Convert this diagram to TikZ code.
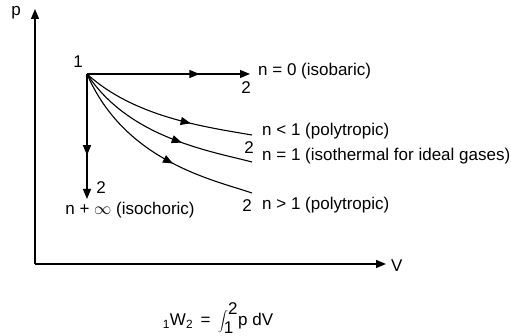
\documentclass[tikz,border=0pt]{standalone}
\usepackage{fontspec}
\setmainfont{Liberation Sans}
\usetikzlibrary{arrows.meta,decorations.markings}

\begin{document}
\begin{tikzpicture}[
  x=1pt, y=-1pt,
  font=\fontsize{17}{20}\selectfont,
  axis/.style={-{Triangle[length=10pt,width=8pt]}, line width=1.4pt},
  proc/.style={line width=1.1pt},
  tip/.style={-{Triangle[length=10pt,width=8pt]}},
  midarrow/.style={postaction={decorate}, decoration={markings,
    mark=at position #1 with {\arrow{Triangle[length=10pt,width=8pt]}}}},
  lbl/.style={inner sep=0pt, anchor=west},
  num/.style={inner sep=0pt}
]
\useasboundingbox (0,0) rectangle (511,336);
% axes
\coordinate (origin) at (35,264);
\coordinate (ptop) at (35,9);
\coordinate (vend) at (386,264);
\draw[axis] (origin) -- (ptop);
\draw[axis] (origin) -- (vend);
\node[num] (plbl) at (16,13) {p};
\node[lbl] (vlbl) at (391,266) {V};

% state 1 and the end states
\coordinate (s1) at (87,74);
\coordinate (e0) at (250,74);
\coordinate (einf) at (87,199);
\coordinate (elt) at (252,135);
\coordinate (eeq) at (252,162);
\coordinate (egt) at (252,193);
\node[num] (one) at (78,62) {1};

% processes
\draw[proc, tip, midarrow=0.69] (s1) -- (e0);
\draw[proc, tip, midarrow=0.65] (s1) -- (einf);
\draw[proc, midarrow=0.65] (s1) .. controls (134,117) and (205,127) .. (elt);
\draw[proc, midarrow=0.62] (s1) .. controls (129,138) and (210,151) .. (eeq);
\draw[proc, midarrow=0.6] (s1) .. controls (125,162) and (214,180) .. (egt);

% end labels
\node[num] (two0) at (246,88) {2};
\node[num] (twoinf) at (101,188) {2};
\node[num] (twolt) at (249,148) {2};
\node[num] (twogt) at (247,206) {2};
\node[lbl] (isobar) at (258,71) {n = 0 (isobaric)};
\node[lbl] (polylt) at (262,131) {n < 1 (polytropic)};
\node[lbl] (isoth) at (262,156) {n = 1 (isothermal for ideal gases)};
\node[lbl] (polygt) at (262,205) {n > 1 (polytropic)};
\node[num] (isoch) at (130,210) {n + $\infty$ (isochoric)};

% boundary work
\node[num] (work) at (218,318)
  {\textsubscript{1}W\textsubscript{2} \,=\, $\displaystyle\int_{\textrm{1}}^{\textrm{2}}$p dV};
\end{tikzpicture}
\end{document}
